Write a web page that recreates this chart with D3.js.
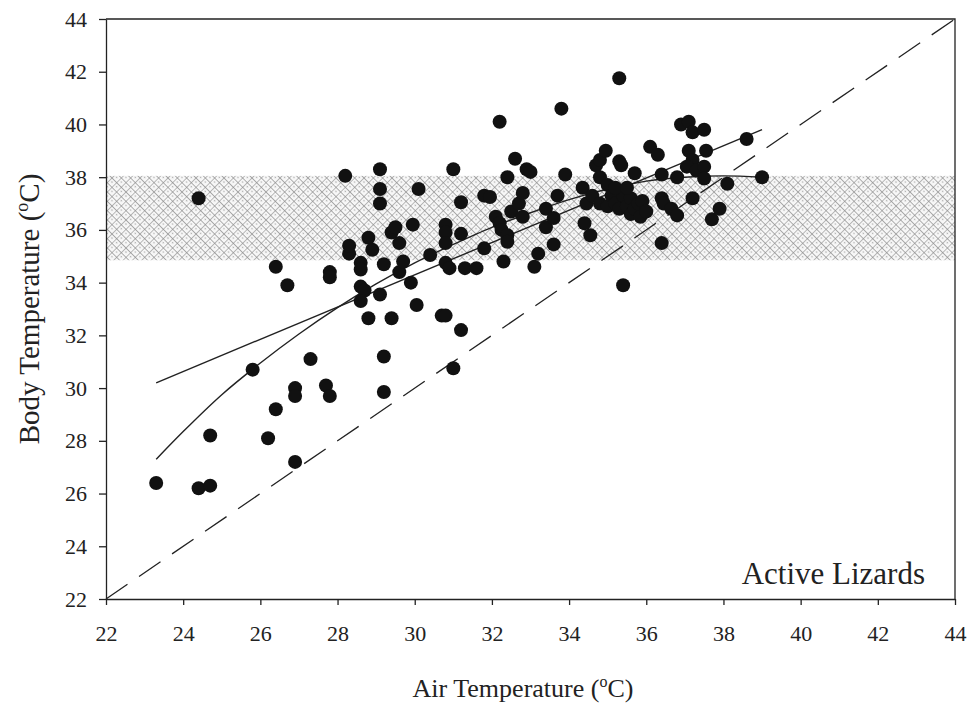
<!DOCTYPE html>
<html>
<head>
<meta charset="utf-8">
<script src="https://cdn.jsdelivr.net/npm/d3@7"></script>
<style>
  body { margin: 0; background: #fff; }
  svg text { font-family: "Liberation Serif", "Times New Roman", serif; fill: #222; }
</style>
</head>
<body>
<div id="chart"></div>
<script>
// air temperature (x) vs body temperature (y)
const airTemp = [
  23.3, 24.4, 24.7, 24.4, 24.7, 25.8, 26.2, 26.4, 26.4, 26.7, 26.9, 26.9, 26.9, 27.3, 27.7, 27.8, 27.8, 27.8,
  28.2, 28.3, 28.3, 28.6, 28.6, 28.6, 28.7, 28.6, 28.8, 28.9, 28.8, 29.1, 29.1, 29.1, 29.1, 29.2, 29.2, 29.2,
  29.4, 29.4, 29.5, 29.6, 29.6, 29.7, 29.9, 29.95, 30.05, 30.1, 30.4, 30.7, 30.8, 30.8, 30.8, 30.8, 30.8, 30.9,
  31.0, 31.0, 31.2, 31.2, 31.2, 31.3, 31.6, 31.8, 31.8, 31.95,
  32.1, 32.2, 32.2, 32.25, 32.3, 32.4, 32.4, 32.4, 32.5, 32.6, 32.7, 32.8, 32.8, 32.9, 33.0, 33.1, 33.2, 33.4,
  33.4, 33.6, 33.6, 33.7, 33.8, 33.9,
  34.35, 34.45, 34.4, 34.55, 34.7, 34.8, 34.8, 34.95, 34.6, 34.8, 35.0, 35.0, 35.1, 35.2, 35.3, 35.35, 35.3,
  35.3, 35.4, 35.4, 35.5, 35.6, 35.6, 35.7, 35.7, 35.8, 35.85, 35.9, 36.0, 35.2, 35.5, 36.1, 36.3, 36.4, 36.4,
  36.45, 36.4, 36.65, 36.8, 36.8, 36.9, 37.1, 37.2, 37.1, 37.2, 37.05, 37.3, 37.2, 37.5, 37.55, 37.5, 37.5,
  37.7, 37.9, 38.1, 38.6, 39.0
];
const bodyTemp = [
  26.4, 26.2, 26.3, 37.2, 28.2, 30.7, 28.1, 29.2, 34.6, 33.9, 27.2, 30.0, 29.7, 31.1, 30.1, 29.7, 34.4, 34.2,
  38.05, 35.1, 35.4, 34.75, 34.5, 33.85, 33.7, 33.3, 35.7, 35.25, 32.65, 33.55, 38.3, 37.55, 37.0, 34.7, 31.2, 29.85,
  32.65, 35.9, 36.1, 35.5, 34.4, 34.8, 34.0, 36.2, 33.15, 37.55, 35.05, 32.75, 32.75, 36.2, 35.9, 35.5, 34.75, 34.55,
  38.3, 30.75, 37.05, 35.85, 32.2, 34.55, 34.55, 35.3, 37.3, 37.25,
  36.5, 40.1, 36.25, 36.0, 34.8, 35.8, 35.55, 38.0, 36.7, 38.7, 37.0, 36.5, 37.4, 38.3, 38.2, 34.6, 35.1, 36.8,
  36.1, 36.45, 35.45, 37.3, 40.6, 38.1,
  37.6, 37.0, 36.25, 35.8, 38.45, 38.65, 38.0, 39.0, 37.3, 37.0, 37.7, 36.9, 37.3, 37.0, 38.6, 38.45, 36.8,
  41.75, 33.9, 37.3, 36.9, 37.2, 36.6, 38.15, 36.8, 37.0, 36.5, 37.1, 36.7, 37.6, 37.6, 39.15, 38.85, 38.1, 37.2,
  37.0, 35.5, 36.8, 36.55, 38.0, 40.0, 40.1, 39.7, 39.0, 38.65, 38.4, 38.25, 37.2, 39.8, 39.0, 38.4, 37.95,
  36.4, 36.8, 37.75, 39.45, 38.0
];

// linear fit (two end points as drawn)
const linearX = [23.3, 39.0];
const linearY = [30.2, 39.8];

// curved fit, points
const curveX = [23.3, 24.0, 25.0, 26.0, 27.0, 28.0, 29.0, 30.0, 31.0, 32.0, 33.0, 34.0, 35.0, 36.0, 37.0, 38.0, 39.0];
const curveY = [27.3, 28.35, 29.75, 30.95, 32.05, 33.05, 33.95, 34.75, 35.45, 36.1, 36.65, 37.15, 37.55, 37.85, 38.0, 38.05, 38.0];

// 1:1 line and preferred body temperature band
const identity = [22, 44];
const bandRange = [34.85, 38.05];

const tickValues = [22, 24, 26, 28, 30, 32, 34, 36, 38, 40, 42, 44];

const width = 973, height = 706;
const margin = { top: 19, right: 18, bottom: 107, left: 106 };

const svg = d3.select('#chart')
  .append('svg')
  .attr('width', width)
  .attr('height', height);

const x = d3.scaleLinear()
  .domain([22, 44])
  .range([margin.left, width - margin.right]);
const y = d3.scaleLinear()
  .domain([22, 44])
  .range([height - margin.bottom, margin.top]);

// hatch pattern for the band
const tile = 6.6;
const defs = svg.append('defs');
const pat = defs.append('pattern')
  .attr('id', 'hatch')
  .attr('patternUnits', 'userSpaceOnUse')
  .attr('width', tile)
  .attr('height', tile)
  .attr('patternTransform', 'rotate(45)');
pat.append('rect').attr('width', tile).attr('height', tile).attr('fill', '#f7f7f7');
pat.append('path')
  .attr('d', `M0,0H${tile}M0,0V${tile}`)
  .attr('stroke', '#8e8e8e')
  .attr('stroke-width', 1.2);
pat.append('circle').attr('cx', tile / 2).attr('cy', tile / 2).attr('r', 0.8).attr('fill', '#aaa');

svg.append('rect')
  .attr('x', x(22))
  .attr('y', y(bandRange[1]))
  .attr('width', x(44) - x(22))
  .attr('height', y(bandRange[0]) - y(bandRange[1]))
  .attr('fill', 'url(#hatch)');

// axes
const xAxis = d3.axisBottom(x).tickValues(tickValues).tickSize(6).tickSizeOuter(0).tickPadding(20);
const yAxis = d3.axisLeft(y).tickValues(tickValues).tickSize(7).tickSizeOuter(0).tickPadding(12);

const gx = svg.append('g')
  .attr('transform', `translate(0,${y(22)})`)
  .call(xAxis);
const gy = svg.append('g')
  .attr('transform', `translate(${x(22)},0)`)
  .call(yAxis);

[gx, gy].forEach(g => {
  g.selectAll('path, line').attr('stroke', '#222').attr('stroke-width', 1.3);
  g.selectAll('text').attr('font-size', 22).attr('fill', '#222')
    .style('font-family', '"Liberation Serif", serif');
});

// frame top/right
svg.append('path')
  .attr('d', `M${x(22)},${y(44)}H${x(44)}V${y(22)}`)
  .attr('fill', 'none')
  .attr('stroke', '#222')
  .attr('stroke-width', 1.3);

// 1:1 dashed line
svg.append('line')
  .attr('x1', x(identity[0])).attr('y1', y(identity[0]))
  .attr('x2', x(identity[1])).attr('y2', y(identity[1]))
  .attr('stroke', '#222')
  .attr('stroke-width', 1.3)
  .attr('stroke-dasharray', '26,14');

// fitted lines
const line = d3.line().x(d => x(d[0])).y(d => y(d[1]));
svg.append('path')
  .datum(linearX.map((v, i) => [v, linearY[i]]))
  .attr('d', line)
  .attr('fill', 'none')
  .attr('stroke', '#222')
  .attr('stroke-width', 1.4);

svg.append('path')
  .datum(curveX.map((v, i) => [v, curveY[i]]))
  .attr('d', line.curve(d3.curveMonotoneX))
  .attr('fill', 'none')
  .attr('stroke', '#222')
  .attr('stroke-width', 1.4);

// points
svg.append('g')
  .selectAll('circle')
  .data(airTemp.map((v, i) => ({ x: v, y: bodyTemp[i] })))
  .enter()
  .append('circle')
  .attr('cx', d => x(d.x))
  .attr('cy', d => y(d.y))
  .attr('r', 7)
  .attr('fill', '#111');

// titles
const xt = svg.append('text')
  .attr('x', 523)
  .attr('y', 697)
  .attr('text-anchor', 'middle')
  .attr('font-size', 26);
xt.append('tspan').text('Air Temperature (');
xt.append('tspan').attr('dy', -10).attr('font-size', 16).text('o');
xt.append('tspan').attr('dy', 10).text('C)');

const yt = svg.append('text')
  .attr('transform', `translate(39,${(y(22) + y(44)) / 2}) rotate(-90)`)
  .attr('text-anchor', 'middle')
  .attr('font-size', 29);
yt.append('tspan').text('Body Temperature (');
yt.append('tspan').attr('dy', -11).attr('font-size', 18).text('o');
yt.append('tspan').attr('dy', 11).text('C)');

svg.append('text')
  .attr('x', 925)
  .attr('y', 584)
  .attr('text-anchor', 'end')
  .attr('font-size', 31)
  .text('Active Lizards');
</script>
</body>
</html>
